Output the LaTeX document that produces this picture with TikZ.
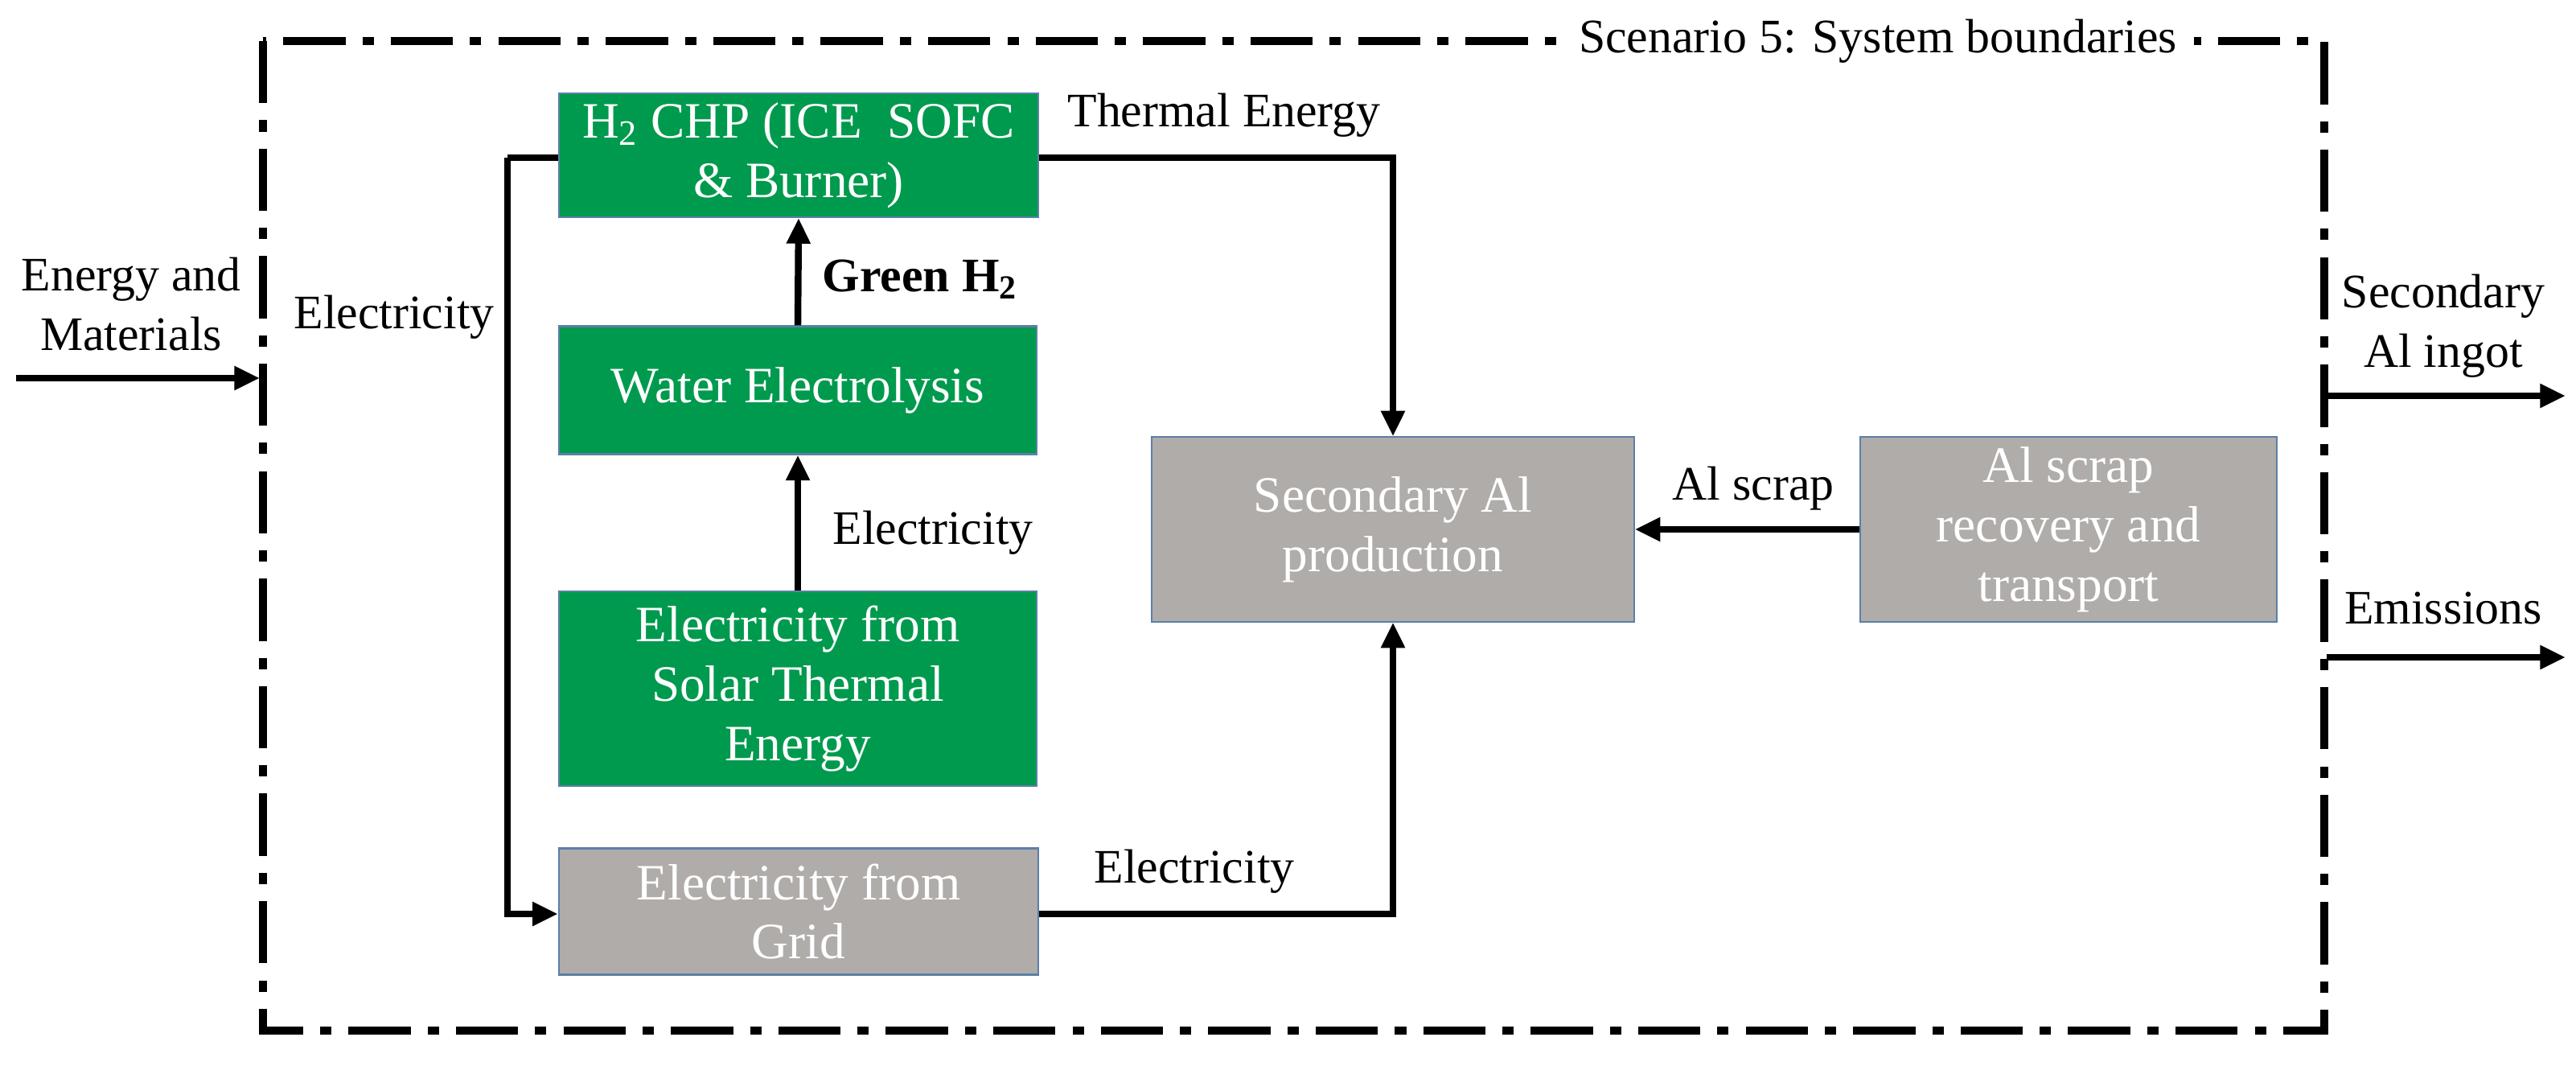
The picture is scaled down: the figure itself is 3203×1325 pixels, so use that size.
\documentclass[tikz,border=0pt]{standalone}
\usepackage{fontspec}
\setmainfont{Liberation Serif}
\usetikzlibrary{arrows.meta}
\definecolor{boxgreen}{HTML}{009A4E}
\definecolor{boxgray}{HTML}{B0ACAA}
\definecolor{edge}{HTML}{5B7FA8}
\begin{document}
\begin{tikzpicture}[x=0.01cm,y=-0.01cm,
  box/.style={draw=edge,line width=0.6pt,text=white,align=center,inner sep=0pt,font=\fontsize{18}{21}\selectfont},
  gbox/.style={box,fill=boxgreen},
  ybox/.style={box,fill=boxgray},
  lbl/.style={font=\fontsize{17}{21}\selectfont,align=center,inner sep=1pt},
  arr/.style={line width=2.4pt,-{Triangle[length=9pt,width=8pt]}},
  ln/.style={line width=2.4pt}]
\useasboundingbox (0,0) rectangle (3203,1325);
\draw[line width=3pt,dash pattern=on 22pt off 6pt on 4pt off 6pt] (327,51) rectangle (2890,1281);
\node[fill=white,lbl,inner xsep=6pt] (scn) at (2335,51) {Scenario 5: System boundaries};
\node[gbox,minimum width=5.96cm,minimum height=1.54cm] (chp) at (993,193) {H\textsubscript{2} CHP (ICE\ \ SOFC\\ \& Burner)};
\node[gbox,minimum width=5.94cm,minimum height=1.59cm] (we) at (992,485) {Water Electrolysis};
\node[gbox,minimum width=5.94cm,minimum height=2.42cm] (sol) at (992,856) {Electricity from\\ Solar Thermal\\ Energy};
\node[ybox,minimum width=5.96cm,minimum height=1.57cm] (grid) at (993,1133) {Electricity from\\ Grid};
\node[ybox,minimum width=5.99cm,minimum height=2.29cm] (sec) at (1732,658) {Secondary Al\\ production};
\node[ybox,minimum width=5.17cm,minimum height=2.29cm] (scr) at (2572,658) {Al scrap\\ recovery and\\ transport};
\coordinate (tl) at (631,196); \coordinate (bl) at (631,1136);
\coordinate (tr) at (1732,196); \coordinate (br) at (1732,1136);
\draw[ln] (chp.west|-tl) -- (tl);
\draw[arr] (tl) -- (bl) -- (grid.west|-bl);
\draw[arr] (chp.east|-tr) -- (tr) -- (sec.north);
\draw[arr] (grid.east|-br) -- (br) -- (sec.south);
\draw[arr] (we.north) -- (chp.south);
\draw[arr] (sol.north) -- (we.south);
\draw[arr] (scr.west) -- (sec.east);
\coordinate (in0) at (20,470); \coordinate (in1) at (323,470);
\draw[arr] (in0) -- (in1);
\coordinate (o1a) at (2893,492); \coordinate (o1b) at (3190,492);
\coordinate (o2a) at (2893,817); \coordinate (o2b) at (3190,817);
\draw[arr] (o1a) -- (o1b);
\draw[arr] (o2a) -- (o2b);
\node[lbl] (l1) at (163,378) {Energy and\\ Materials};
\node[lbl] (l2) at (490,394) {Electricity};
\node[lbl] (l3) at (1522,143) {Thermal Energy};
\node[lbl,font=\fontsize{17}{21}\selectfont\bfseries] (l4) at (1144,347) {Green H\textsubscript{2}};
\node[lbl] (l5) at (1160,662) {Electricity};
\node[lbl] (l6) at (1485,1083) {Electricity};
\node[lbl] (l7) at (2180,607) {Al scrap};
\node[lbl] (l8) at (3038,405) {Secondary\\ Al ingot};
\node[lbl] (l9) at (3038,756) {Emissions};
\end{tikzpicture}
\end{document}
